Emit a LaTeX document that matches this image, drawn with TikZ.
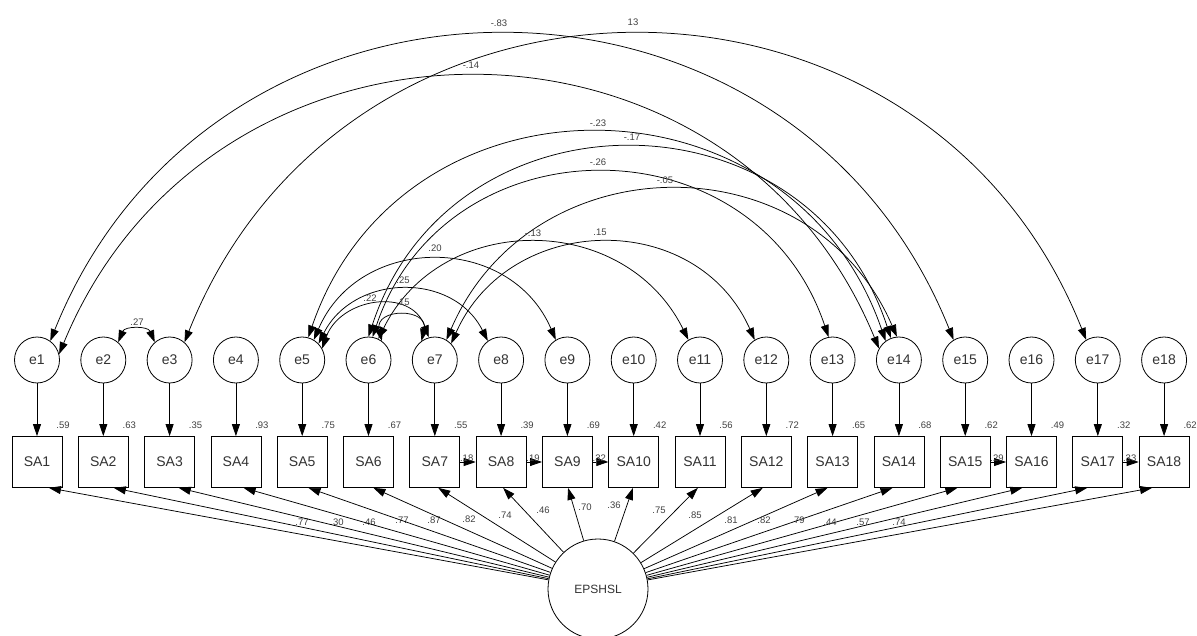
\documentclass[tikz,border=0pt]{standalone}
\usepackage{fontspec}
\setmainfont{Liberation Sans}
\usetikzlibrary{arrows.meta,calc,shapes.geometric}
\newcommand\covarc[3]{%
  \draw[cov] let \p1=(#1), \p2=(#2),
    \n1={veclen(\x2-\x1,\y2-\y1)},
    \n2={#3-(\y1+\y2)/2},
    \n3={2*atan(2*(\n2)/(\n1))},
    \n4={4*(\n2)/(3*sin(\n3))},
    \n5={180-\n3}
  in (\p1) .. controls +(\n3:\n4) and +(\n5:\n4) .. (\p2);}
\begin{document}
\begin{tikzpicture}[x=1pt,y=1pt,
  err/.style={draw, ellipse, minimum width=45pt, minimum height=46pt, inner sep=0pt, line width=0.8pt, font=\fontsize{14}{14}\selectfont, text=black!80},
  obs/.style={draw, rectangle, minimum width=50pt, minimum height=51pt, inner sep=0pt, line width=0.8pt, font=\fontsize{14}{14}\selectfont, text=black!80},
  lat/.style={draw, circle, minimum size=100pt, inner sep=0pt, line width=0.8pt, font=\fontsize{12}{12}\selectfont, text=black!80},
  arr/.style={-{Triangle[length=12pt,width=8pt]}, line width=0.75pt},
  cov/.style={{Triangle[length=12pt,width=8pt]}-{Triangle[length=12pt,width=8pt]}, line width=0.75pt},
  num/.style={font=\fontsize{9.5}{10}\selectfont, text=black!75, inner sep=0.5pt}]
\useasboundingbox (0,0) rectangle (1197,635);
\fill[white] (0,0) rectangle (1197,635);
% errors, observed, paths
\foreach \i in {1,...,18} {
  \pgfmathsetmacro\xx{37+66.3*(\i-1)}
  \node[err] (e\i) at (\xx,275) {e\i};
  \node[obs] (SA\i) at (\xx,173) {SA\i};
  \draw[arr] (e\i) -- (SA\i);
}
% latent
\node[lat] (F) at (598,46) {EPSHSL};
% squared multiple correlations
\foreach \i/\v in {1/.59,2/.63,3/.35,4/.93,5/.75,6/.67,7/.55,8/.39,9/.69,10/.42,11/.56,12/.72,13/.65,14/.68,15/.62,16/.49,17/.32,18/.62}
  \node[num] (r\i) at ($(SA\i.north)+(26,11)$) {\v};
% loadings
\foreach \i/\v/\lx/\ly in {1/.77/302/113,2/.30/337/113,3/.46/369/113,4/.77/402/115,5/.87/434/115,6/.82/469/116,7/.74/505/120,8/.46/543/125,9/.70/585/128,10/.36/614/130,11/.75/659/125,12/.85/695/120,13/.81/731/115,14/.82/764/115,15/.79/798/115,16/.44/830/113,17/.57/863/113,18/.74/899/113} {
  \pgfmathsetmacro\xx{37+66.3*(\i-1)}
  \pgfmathsetmacro\dx{12*(598-\xx)/562}
  \draw[arr] (F) -- ($(SA\i.south)+(\dx,0)$);
  \node[num] (ld\i) at (\lx,\ly) {\v};
}
% covariances between observed
\foreach \a/\b/\v in {7/8/.18,8/9/.19,9/10/.32,15/16/.29,17/18/.33}
  \draw[arr] (SA\a) -- (SA\b) node[num, pos=0, anchor=south west, xshift=-1pt] (c\a) {\v};
% covariances between errors
\covarc{e2.50}{e3.130}{305}
\node[num] (k1) at (137,313) {.27};
\covarc{e3.50}{e17.120}{600}
\node[num] (k2) at (633,613) {13};
\covarc{e1.55}{e15.120}{600}
\node[num] (k3) at (499,612) {-.83};
\covarc{e1.15}{e14.150}{558}
\node[num] (k4) at (471,570) {-.14};
\covarc{e5.75}{e14.125}{502}
\node[num] (k5) at (598,512) {-.23};
\covarc{e6.90}{e14.110}{487}
\node[num] (k6) at (632,498) {-.17};
\covarc{e6.80}{e13.100}{462}
\node[num] (k7) at (598,473) {-.26};
\covarc{e7.60}{e14.95}{445}
\node[num] (k8) at (665,455) {-.05};
\covarc{e6.65}{e11.120}{392}
\node[num] (k9) at (533,402) {-.13};
\covarc{e7.45}{e12.120}{392}
\node[num] (k10) at (600,403) {.15};
\covarc{e5.60}{e9.120}{375}
\node[num] (k11) at (435,387) {.20};
\covarc{e5.45}{e8.125}{345}
\node[num] (k12) at (403,355) {.25};
\covarc{e5.30}{e7.105}{330}
\node[num] (k13) at (370,337) {.22};
\covarc{e6.55}{e7.125}{319}
\node[num] (k14) at (403,333) {.15};
\end{tikzpicture}
\end{document}
